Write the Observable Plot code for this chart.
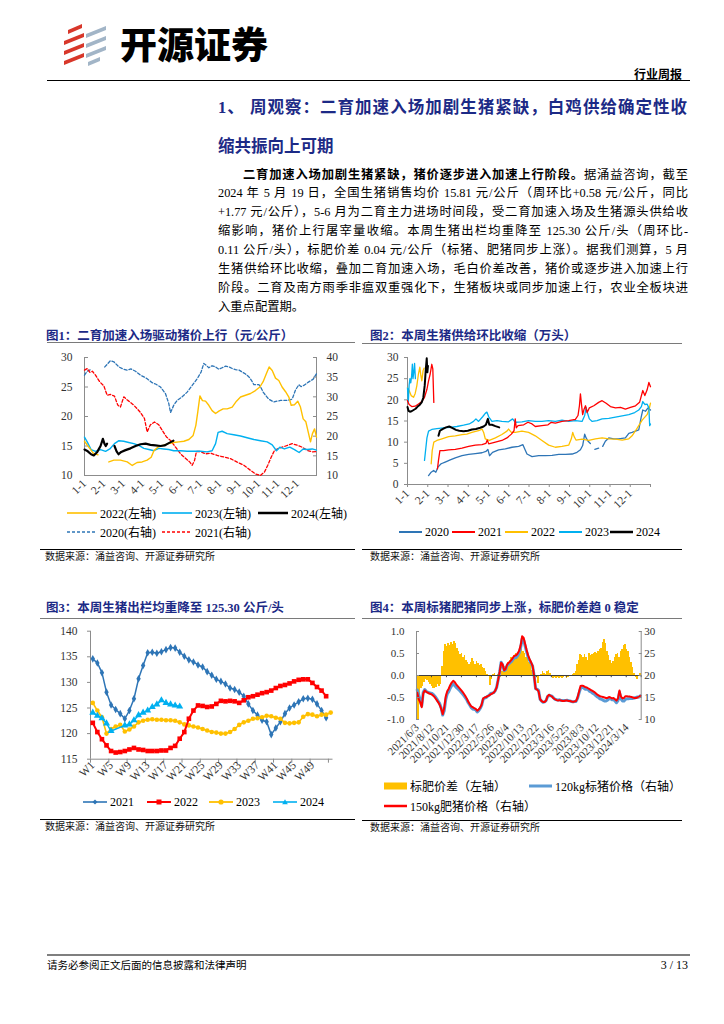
<!DOCTYPE html>
<html lang="zh-CN">
<head>
<meta charset="utf-8">
<script src="https://cdn.jsdelivr.net/npm/d3@7"></script>
<script src="https://cdn.jsdelivr.net/npm/@observablehq/plot@0.6"></script>
<style>
html,body{margin:0;padding:0;background:#fff;}
#page{position:relative;width:724px;height:1024px;overflow:hidden;background:#fff;color:#000;font-family:"Liberation Serif","Noto Sans CJK SC",serif;}
#page > *{position:absolute;}
.rule{height:0;border-top:1px solid #000;}
.grule{height:0;border-top:1px solid #7a7a7a;}
.ctitle{font-family:"Liberation Serif","Noto Sans CJK SC",serif;font-weight:700;font-size:12.5px;line-height:13px;color:#1C2A86;white-space:nowrap;}
.src{font-family:"Noto Sans CJK SC",sans-serif;font-size:10px;line-height:11px;white-space:nowrap;color:#111;}
.bl{left:218px;width:470px;font-size:12.3px;line-height:18.9px;height:18.9px;text-align:justify;text-align-last:justify;}
.tl{left:218px;font-family:"Liberation Serif","Noto Sans CJK SC",serif;font-weight:700;font-size:16.5px;line-height:20px;color:#1C2A86;white-space:nowrap;}
.lg{display:flex;align-items:center;height:16px;font-size:12px;white-space:nowrap;}
.lg svg{margin-right:3px;}
</style>
</head>
<body>
<div id="page">
  <!-- header -->
  <svg style="left:60px;top:22px" width="50" height="44" viewBox="0 0 50 44">
    <polygon points="8,8 22,2 22,6 8,12" fill="#D8372A"/>
    <polygon points="4,19 24,11 24,15 4,23" fill="#D8372A"/>
    <polygon points="4,29 24,21 24,25 4,33" fill="#D8372A"/>
    <polygon points="4,39 24,31 24,35 4,43" fill="#D8372A"/>
    <polygon points="26,12 46,4 46,8 26,16" fill="#A2B5C7"/>
    <polygon points="26,22 46,14 46,18 26,26" fill="#A2B5C7"/>
    <polygon points="26,32 46,24 46,28 26,36" fill="#A2B5C7"/>
    <polygon points="28,40 40,35 40,39 28,44" fill="#A2B5C7"/>
  </svg>
  <div style="left:120px;top:25px;font-family:'Noto Sans CJK SC',sans-serif;font-weight:900;font-size:37px;line-height:37px;white-space:nowrap;">开源证券</div>
  <div style="right:42px;top:67px;font-family:'Noto Sans CJK SC',sans-serif;font-weight:700;font-size:12px;line-height:13px;white-space:nowrap;">行业周报</div>
  <div class="rule" style="left:47px;width:643px;top:80px;border-top-width:1.5px;"></div>

  <!-- section title -->
  <div class="tl" style="top:98.3px;width:469px;text-align:justify;text-align-last:justify;">1、 周观察：二育加速入场加剧生猪紧缺，白鸡供给确定性收</div>
  <div class="tl" style="top:136.7px;">缩共振向上可期</div>

  <!-- body -->
  <div class="bl" style="top:165.5px;padding-left:25px;width:445px;"><b>二育加速入场加剧生猪紧缺，猪价逐步进入加速上行阶段。</b>据涌益咨询，截至</div>
  <div class="bl" style="top:184.4px;">2024 年 5 月 19 日，全国生猪销售均价 15.81 元/公斤（周环比+0.58 元/公斤，同比</div>
  <div class="bl" style="top:203.3px;">+1.77 元/公斤），5-6 月为二育主力进场时间段，受二育加速入场及生猪源头供给收</div>
  <div class="bl" style="top:222.2px;">缩影响，猪价上行屠宰量收缩。本周生猪出栏均重降至 125.30 公斤/头（周环比-</div>
  <div class="bl" style="top:241.1px;">0.11 公斤/头），标肥价差 0.04 元/公斤（标猪、肥猪同步上涨）。据我们测算，5 月</div>
  <div class="bl" style="top:260px;">生猪供给环比收缩，叠加二育加速入场，毛白价差改善，猪价或逐步进入加速上行</div>
  <div class="bl" style="top:278.9px;">阶段。二育及南方雨季非瘟双重强化下，生猪板块或同步加速上行，农业全板块进</div>
  <div class="bl" style="top:297.8px;text-align:left;text-align-last:left;">入重点配置期。</div>

  <!-- chart titles and rules -->
  <div class="ctitle" style="left:46px;top:329.5px;">图1：二育加速入场驱动猪价上行（元/公斤）</div>
  <div class="grule" style="left:47px;width:308px;top:342px;"></div>
  <div class="ctitle" style="left:370px;top:329.5px;">图2：本周生猪供给环比收缩（万头）</div>
  <div class="grule" style="left:362px;width:320px;top:343px;"></div>
  <div class="rule" style="left:40px;width:315px;top:549px;"></div>
  <div class="src" style="left:45px;top:549.5px;">数据来源：涌益咨询、开源证券研究所</div>
  <div class="rule" style="left:362px;width:320px;top:549px;"></div>
  <div class="src" style="left:370px;top:549.5px;">数据来源：涌益咨询、开源证券研究所</div>

  <div class="ctitle" style="left:46px;top:601.5px;">图3：本周生猪出栏均重降至 125.30 公斤/头</div>
  <div class="grule" style="left:40px;width:315px;top:618px;"></div>
  <div class="ctitle" style="left:370px;top:601.5px;">图4：本周标猪肥猪同步上涨，标肥价差趋 0 稳定</div>
  <div class="grule" style="left:362px;width:320px;top:618px;"></div>
  <div class="rule" style="left:40px;width:315px;top:819px;"></div>
  <div class="src" style="left:45px;top:820px;">数据来源：涌益咨询、开源证券研究所</div>
  <div class="rule" style="left:362px;width:320px;top:820px;"></div>
  <div class="src" style="left:370px;top:821px;">数据来源：涌益咨询、开源证券研究所</div>

  <!-- legends -->
  <div class="lg" style="left:67px;top:505.3px;"><svg width="30" height="8"><line x1="0" y1="4" x2="30" y2="4" stroke="#FFC000" stroke-width="1.6"/></svg>2022(左轴)</div>
  <div class="lg" style="left:162px;top:505.3px;"><svg width="30" height="8"><line x1="0" y1="4" x2="30" y2="4" stroke="#00B0F0" stroke-width="1.6"/></svg>2023(左轴)</div>
  <div class="lg" style="left:258px;top:505.3px;"><svg width="30" height="8"><line x1="0" y1="4" x2="30" y2="4" stroke="#000" stroke-width="2.5"/></svg>2024(左轴)</div>
  <div class="lg" style="left:67px;top:523.7px;"><svg width="30" height="8"><line x1="0" y1="4" x2="30" y2="4" stroke="#2E75B6" stroke-width="1.4" stroke-dasharray="3,2"/></svg>2020(右轴)</div>
  <div class="lg" style="left:162px;top:523.7px;"><svg width="30" height="8"><line x1="0" y1="4" x2="30" y2="4" stroke="#FF0000" stroke-width="1.4" stroke-dasharray="3,2"/></svg>2021(右轴)</div>

  <div class="lg" style="left:399px;top:524.3px;"><svg width="23" height="8"><line x1="0" y1="4" x2="23" y2="4" stroke="#2E75B6" stroke-width="2"/></svg>2020</div>
  <div class="lg" style="left:452px;top:524.3px;"><svg width="23" height="8"><line x1="0" y1="4" x2="23" y2="4" stroke="#FF0000" stroke-width="2"/></svg>2021</div>
  <div class="lg" style="left:505px;top:524.3px;"><svg width="23" height="8"><line x1="0" y1="4" x2="23" y2="4" stroke="#FFC000" stroke-width="2"/></svg>2022</div>
  <div class="lg" style="left:559px;top:524.3px;"><svg width="23" height="8"><line x1="0" y1="4" x2="23" y2="4" stroke="#00B0F0" stroke-width="2"/></svg>2023</div>
  <div class="lg" style="left:610px;top:524.3px;"><svg width="23" height="8"><line x1="0" y1="4" x2="23" y2="4" stroke="#000" stroke-width="2.5"/></svg>2024</div>

  <div class="lg" style="left:83px;top:794.3px;"><svg width="24" height="8"><line x1="0" y1="4" x2="24" y2="4" stroke="#2E75B6" stroke-width="1.6"/><path d="M12,1.5L14.5,4L12,6.5L9.5,4Z" fill="#2E75B6"/></svg>2021</div>
  <div class="lg" style="left:147px;top:794.3px;"><svg width="24" height="8"><line x1="0" y1="4" x2="24" y2="4" stroke="#FF0000" stroke-width="2"/><rect x="9.5" y="1.5" width="5" height="5" fill="#FF0000"/></svg>2022</div>
  <div class="lg" style="left:209px;top:794.3px;"><svg width="24" height="8"><line x1="0" y1="4" x2="24" y2="4" stroke="#FFC000" stroke-width="1.8"/><circle cx="12" cy="4" r="2.6" fill="#FFC000"/></svg>2023</div>
  <div class="lg" style="left:273px;top:794.3px;"><svg width="24" height="8"><line x1="0" y1="4" x2="24" y2="4" stroke="#00B0F0" stroke-width="1.6"/><path d="M12,1.2L14.8,6.2L9.2,6.2Z" fill="#00B0F0"/></svg>2024</div>

  <div class="lg" style="left:384px;top:778px;"><svg width="23" height="8"><rect x="0" y="0.5" width="23" height="7" fill="#FFC000"/></svg>标肥价差（左轴）</div>
  <div class="lg" style="left:529px;top:778px;"><svg width="23" height="8"><line x1="0" y1="4" x2="23" y2="4" stroke="#5B9BD5" stroke-width="3"/></svg>120kg标猪价格（右轴）</div>
  <div class="lg" style="left:384px;top:798px;"><svg width="23" height="8"><line x1="0" y1="4" x2="23" y2="4" stroke="#FF0000" stroke-width="2.5"/></svg>150kg肥猪价格（右轴）</div>

  <!-- footer -->
  <div style="left:47px;width:643px;top:954px;height:0;border-top:2px solid #7f7f7f;"></div>
  <div style="left:47px;top:959px;font-family:'Noto Sans CJK SC',sans-serif;font-size:10.5px;line-height:12px;white-space:nowrap;">请务必参阅正文后面的信息披露和法律声明</div>
  <div style="right:36px;top:959px;font-size:12px;line-height:12px;white-space:nowrap;">3 / 13</div>
</div>
<script>
// ---------- Chart 1: price by month-of-year (x = month fraction, 1 = Jan 1, 13 = Dec 31) ----------
const monthLabels = ["1-1","2-1","3-1","4-1","5-1","6-1","7-1","8-1","9-1","10-1","11-1","12-1"];
const c1LeftTicks = [10, 15, 20, 25, 30];
const c1RightTicks = [10, 15, 20, 25, 30, 35, 40];
const c1_2020 = [[1.00,35.5],[1.14,36.5],[1.34,37.0],[1.40,null],[2.05,37.6],[2.34,39.2],[2.52,38.9],[2.78,37.6],[3.03,37.0],[3.21,36.8],[3.40,37.1],[3.64,36.5],[3.90,35.5],[4.10,35.0],[4.24,34.6],[4.50,33.6],[4.70,33.2],[4.93,32.5],[5.19,30.8],[5.36,28.3],[5.45,26.0],[5.62,27.9],[5.79,29.1],[6.05,30.0],[6.31,31.2],[6.57,32.9],[6.83,34.6],[7.03,36.3],[7.17,38.5],[7.30,38.0],[7.43,37.4],[7.60,37.9],[7.78,37.6],[7.95,37.0],[8.12,37.4],[8.30,37.8],[8.47,37.6],[8.64,37.2],[8.81,36.9],[9.00,36.8],[9.16,36.3],[9.33,35.8],[9.50,35.1],[9.66,34.0],[9.76,33.1],[10.02,33.1],[10.13,32.3],[10.24,31.2],[10.40,30.2],[10.53,29.4],[10.79,28.7],[11.14,29.1],[11.48,29.1],[11.74,29.4],[11.91,31.7],[12.09,33.1],[12.20,32.6],[12.34,32.9],[12.60,33.8],[12.83,34.5],[13.00,35.9]];
const c1_2021 = [[1.00,36.8],[1.14,37.2],[1.28,36.2],[1.41,36.5],[1.57,35.5],[1.79,33.8],[2.00,32.8],[2.17,30.4],[2.34,30.6],[2.55,30.2],[2.72,27.9],[2.86,27.4],[3.03,30.0],[3.24,29.1],[3.52,28.0],[3.72,27.0],[3.90,26.0],[4.10,24.5],[4.24,21.1],[4.41,22.9],[4.62,23.6],[4.84,22.9],[5.02,21.5],[5.24,19.8],[5.45,18.9],[5.71,17.2],[5.97,15.5],[6.22,14.4],[6.45,13.4],[6.57,12.6],[6.69,13.8],[6.79,16.1],[7.00,16.1],[7.26,15.5],[7.52,15.7],[7.86,15.1],[8.21,14.7],[8.55,14.3],[8.90,13.4],[9.24,12.6],[9.59,11.3],[9.84,10.4],[10.10,10.0],[10.31,10.9],[10.48,12.6],[10.66,14.7],[10.83,16.4],[11.10,17.0],[11.40,17.5],[11.74,18.1],[12.00,17.7],[12.26,17.2],[12.52,16.4],[12.78,16.0],[13.00,16.1]];
const c1_2022 = [[1.00,15.8],[1.20,14.9],[1.45,13.8],[1.70,13.5],[1.90,null],[2.26,12.3],[2.52,12.6],[2.86,12.6],[3.21,12.3],[3.47,11.7],[3.72,12.2],[3.98,12.3],[4.24,12.6],[4.45,13.1],[4.59,14.2],[4.79,14.8],[5.07,15.1],[5.36,15.4],[5.62,15.6],[5.88,15.7],[6.14,15.8],[6.40,16.1],[6.62,16.8],[6.76,18.5],[6.86,20.8],[6.97,23.5],[7.10,22.7],[7.26,22.6],[7.43,21.9],[7.60,21.0],[7.78,20.5],[7.95,20.9],[8.17,21.3],[8.38,21.3],[8.64,21.6],[8.86,22.6],[9.07,23.3],[9.33,23.6],[9.59,23.9],[9.84,24.4],[10.07,25.0],[10.24,25.9],[10.41,27.3],[10.55,28.4],[10.71,27.8],[10.88,26.5],[11.05,26.1],[11.22,25.0],[11.40,24.2],[11.57,23.3],[11.69,21.9],[11.86,22.0],[12.03,22.6],[12.17,21.6],[12.31,19.6],[12.45,19.1],[12.57,17.4],[12.69,15.7],[12.79,17.1],[12.90,17.9],[13.00,16.5]];
const c1_2023 = [[1.00,16.5],[1.14,15.7],[1.34,14.4],[1.57,14.1],[1.83,14.4],[2.09,14.1],[2.31,14.5],[2.55,15.4],[2.78,15.9],[3.03,15.8],[3.29,15.6],[3.55,15.4],[3.81,15.1],[4.07,14.6],[4.33,14.4],[4.59,14.2],[4.84,14.6],[5.10,14.5],[5.36,14.4],[5.62,14.2],[5.97,14.2],[6.31,14.1],[6.66,14.1],[7.00,14.1],[7.34,14.0],[7.60,14.2],[7.78,15.4],[7.91,17.3],[8.12,17.5],[8.38,17.1],[8.72,16.9],[9.07,16.7],[9.41,16.4],[9.76,16.1],[10.10,15.9],[10.45,15.7],[10.71,15.2],[10.93,14.2],[11.10,14.8],[11.34,14.5],[11.62,14.8],[11.86,14.4],[12.10,13.9],[12.31,14.5],[12.52,14.4],[12.78,14.5],[13.00,14.3]];
const c1_2024 = [[1.00,14.4],[1.17,14.1],[1.34,13.6],[1.48,13.4],[1.66,14.0],[1.83,15.0],[1.95,16.2],[2.03,15.4],[2.10,15.0],[2.17,15.4],[2.30,null],[2.55,15.0],[2.66,14.1],[2.76,13.6],[2.90,14.0],[3.12,14.3],[3.38,14.6],[3.64,15.0],[3.90,15.3],[4.16,15.4],[4.41,15.2],[4.67,15.1],[4.93,15.0],[5.14,15.1],[5.31,15.4],[5.48,15.7],[5.60,15.9]];

// ---------- Chart 2: weekly supply (万头) ----------
const c2Ticks = [0, 5, 10, 15, 20, 25, 30];
const c2_2020 = [[2.04,2.1],[2.17,2.9],[2.29,3.3],[2.40,2.9],[2.50,4.1],[2.66,4.9],[2.86,5.3],[3.11,5.8],[3.36,6.3],[3.69,6.8],[4.02,7.1],[4.35,7.3],[4.68,7.5],[4.87,7.8],[4.97,8.3],[5.05,6.8],[5.20,7.6],[5.50,8.2],[5.83,8.4],[6.16,8.8],[6.49,9.0],[6.70,9.4],[6.79,8.4],[6.90,7.2],[7.15,6.6],[7.48,6.8],[7.81,6.8],[8.14,6.9],[8.47,7.1],[8.80,7.1],[9.13,7.2],[9.37,7.6],[9.54,8.2],[9.65,9.2],[9.75,11.9],[9.82,11.0],[9.92,10.2],[10.03,9.7],[10.12,null],[10.25,8.3],[10.44,8.6],[10.55,null],[10.64,9.0],[10.77,10.2],[10.94,11.0],[11.19,10.8],[11.43,10.8],[11.76,11.0],[11.93,12.1],[12.09,12.3],[12.26,12.6],[12.42,12.9],[12.54,15.9],[12.62,17.6],[12.75,17.3],[12.88,18.1],[13.00,17.6]];
const c2_2021 = [[1.00,19.8],[1.08,18.9],[1.21,18.4],[1.38,18.5],[1.54,19.0],[1.71,19.6],[1.84,20.6],[1.96,22.5],[2.04,24.5],[2.12,26.1],[2.20,28.4],[2.25,27.3],[2.30,19.4],[2.40,null],[2.48,3.7],[2.53,5.7],[2.60,8.0],[2.78,8.0],[3.03,8.2],[3.36,8.3],[3.69,8.6],[4.02,9.0],[4.35,9.3],[4.68,9.4],[4.87,9.7],[4.94,10.5],[5.01,9.6],[5.34,10.0],[5.66,10.4],[5.91,11.0],[6.13,11.9],[6.26,12.7],[6.32,15.5],[6.37,13.4],[6.46,13.9],[6.74,14.1],[6.95,14.7],[7.15,14.3],[7.31,13.7],[7.64,13.9],[7.94,14.1],[8.10,14.7],[8.30,14.5],[8.63,14.9],[8.96,15.1],[9.29,15.4],[9.42,16.3],[9.49,18.6],[9.54,21.4],[9.59,19.0],[9.65,16.5],[9.72,17.8],[9.79,18.6],[9.87,17.0],[9.98,18.1],[10.20,18.6],[10.44,19.4],[10.61,19.8],[10.81,19.2],[11.02,18.4],[11.27,18.1],[11.52,18.2],[11.76,17.8],[12.01,18.2],[12.26,18.6],[12.46,19.4],[12.62,22.2],[12.72,21.0],[12.83,22.3],[12.92,24.1],[13.00,23.1]];
const c2_2022 = [[1.00,22.9],[1.08,22.2],[1.18,21.0],[1.30,20.6],[1.38,21.5],[1.46,23.3],[1.54,26.1],[1.61,27.7],[1.66,25.7],[1.71,24.5],[1.77,26.9],[1.82,27.5],[1.95,null],[2.17,4.9],[2.22,8.0],[2.30,10.0],[2.45,10.4],[2.70,10.8],[3.03,11.3],[3.36,11.5],[3.69,11.8],[3.93,11.9],[4.18,12.3],[4.51,12.7],[4.68,13.1],[4.76,12.3],[4.84,10.8],[5.04,10.4],[5.34,11.0],[5.66,11.8],[5.91,12.6],[5.99,13.1],[6.13,12.3],[6.32,12.3],[6.65,12.6],[6.98,12.3],[7.31,11.5],[7.64,10.4],[7.97,9.3],[8.30,8.8],[8.63,9.0],[8.96,9.3],[9.09,10.8],[9.16,12.3],[9.23,11.3],[9.32,10.5],[9.62,10.7],[9.95,10.4],[10.28,10.8],[10.61,11.0],[10.94,10.8],[11.27,10.7],[11.60,10.5],[11.93,10.8],[12.09,11.5],[12.26,12.7],[12.42,13.9],[12.59,15.2],[12.72,15.9],[12.83,16.5],[12.92,17.6],[13.00,19.2]];
const c2_2023 = [[1.00,22.8],[1.04,19.5],[1.08,23.5],[1.12,25.0],[1.16,24.0],[1.20,25.5],[1.24,28.4],[1.27,25.0],[1.31,26.5],[1.35,28.6],[1.39,25.0],[1.50,null],[1.84,5.7],[1.91,8.8],[1.96,11.0],[2.04,12.6],[2.20,13.0],[2.45,13.2],[2.78,13.4],[3.11,13.5],[3.44,13.7],[3.77,14.0],[4.05,14.3],[4.26,14.9],[4.38,15.5],[4.51,14.9],[4.71,16.0],[4.84,16.8],[4.92,17.1],[5.01,16.0],[5.17,14.9],[5.42,15.1],[5.66,14.9],[5.99,14.8],[6.19,15.5],[6.32,14.7],[6.65,14.8],[6.98,15.1],[7.31,14.9],[7.64,14.9],[7.97,15.1],[8.30,14.9],[8.63,15.2],[8.96,14.9],[9.29,15.1],[9.62,14.9],[9.75,16.3],[9.82,18.2],[9.88,17.0],[9.98,15.5],[10.12,14.9],[10.36,15.1],[10.61,15.5],[10.94,15.6],[11.27,15.9],[11.60,16.2],[11.93,16.5],[12.22,17.0],[12.42,17.6],[12.55,18.4],[12.62,19.6],[12.72,18.9],[12.83,19.0],[12.92,18.1],[12.96,13.9],[13.00,14.3]];
const c2_2024 = [[1.00,18.3],[1.05,17.4],[1.12,17.2],[1.20,17.3],[1.30,17.6],[1.40,17.9],[1.50,18.4],[1.60,18.8],[1.70,19.4],[1.78,20.5],[1.85,23.4],[1.90,27.0],[1.95,29.8],[1.98,26.5],[2.01,28.0],[2.20,null],[2.53,11.5],[2.60,12.7],[2.73,13.1],[2.90,13.5],[3.06,13.7],[3.23,13.3],[3.39,12.9],[3.55,12.7],[3.77,12.6],[3.98,12.7],[4.18,13.0],[4.38,13.1],[4.59,13.4],[4.76,13.7],[4.87,14.1],[4.97,15.5],[5.04,14.1],[5.17,14.1],[5.34,13.8],[5.53,13.5]];

// ---------- Chart 3: weekly average slaughter weight (公斤/头), index = week-1 ----------
const weekLabels = ["W1","W5","W9","W13","W17","W21","W25","W29","W33","W37","W41","W45","W49"];
const c3Ticks = [115, 120, 125, 130, 135, 140];
const c3_2021 = [134.6,133.8,131.9,128.1,125.6,124.7,123.9,122.9,124.5,126.8,130.7,133.3,135.8,135.9,135.7,136.0,136.4,136.8,136.7,135.9,135.1,134.4,134.0,133.4,133.0,132.1,131.4,130.6,130.2,129.7,128.9,128.6,128.1,127.3,125.8,124.5,123.6,122.6,122.3,119.8,121.1,122.3,123.9,125.0,125.6,126.2,126.8,126.9,126.7,125.8,124.5,123.1];
const c3_2022 = [122.1,120.3,118.9,117.7,116.6,116.3,116.4,116.6,116.9,117.2,116.9,116.8,116.6,116.6,116.6,116.7,116.7,117.2,117.6,119.0,120.3,122.9,124.5,125.5,125.4,125.2,125.3,125.8,126.4,126.3,126.4,126.3,126.0,126.5,127.1,127.3,127.6,127.9,128.1,128.4,128.9,129.3,129.5,129.8,130.2,130.5,130.6,130.6,129.9,129.1,128.4,127.3];
const c3_2023 = [126.0,124.5,123.2,120.0,120.9,121.4,121.7,120.4,120.8,121.4,122.2,122.5,122.7,122.8,122.7,122.7,122.6,122.6,122.5,122.2,121.8,121.6,121.4,121.2,120.9,120.6,120.3,120.2,120.0,120.0,120.3,120.9,121.7,122.2,122.5,122.9,123.0,123.2,123.5,123.4,123.1,122.9,122.1,122.0,122.1,122.2,123.3,123.8,123.7,123.4,123.7,123.7,124.1];
const c3_2024 = [124.1,123.5,123.0,122.0,120.5,null,null,121.6,121.8,122.6,123.6,124.1,124.5,125.2,125.7,126.5,126.0,125.7,125.5,125.3];

// ---------- Chart 4: weekly, from 2021/6/3 (index = week order) ----------
const c4Labels = ["2021/6/3","2021/8/12","2021/10/21","2021/12/30","2022/3/17","2022/5/26","2022/8/4","2022/10/13","2022/12/22","2023/3/16","2023/5/25","2023/8/3","2023/10/12","2023/12/21","2024/3/14"];
const c4LeftTicks = [-1, -0.5, 0, 0.5, 1];
const c4RightTicks = [10, 15, 20, 25, 30];
const c4Spread = [-0.55,-1.0,-0.45,-0.3,-0.25,-0.15,-0.1,-0.12,-0.15,-0.2,
-0.25,-0.3,-0.3,-0.28,-0.2,-0.25,-0.2,0.2,0.55,0.7,
0.65,0.72,0.68,0.75,0.7,0.78,0.72,0.62,0.55,0.48,
0.5,0.42,0.45,0.35,0.3,0.25,0.3,0.38,0.32,0.25,
0.32,0.28,0.22,0.25,0.18,0.15,0.08,0.02,0.0,-0.22,
-0.1,0.03,0.05,-0.03,0.02,0.04,-0.05,0.1,0.15,0.2,
0.25,0.3,0.35,0.4,0.38,0.45,0.5,0.48,0.55,0.52,
0.6,0.55,0.5,0.42,0.4,0.3,0.22,0.12,0.05,-0.02,
-0.05,-0.18,-0.03,0.03,0.08,0.05,0.02,0.1,0.12,0.05,
-0.05,-0.06,-0.04,-0.07,-0.05,-0.06,-0.04,-0.07,-0.05,-0.03,
-0.06,-0.05,-0.03,-0.02,0.03,0.05,0.1,0.25,0.35,0.48,
0.45,0.42,0.47,0.4,0.35,0.5,0.45,0.48,0.5,0.52,
0.5,0.55,0.58,0.62,0.75,0.82,0.72,0.55,0.45,0.35,
0.28,0.32,0.4,0.48,0.5,0.42,0.55,0.6,0.68,0.7,
0.58,0.55,0.4,0.3,0.18,0.05,-0.05,-0.08,-0.02,0.04];
const c4Fat150 = [16.1,14.6,13.9,12.8,15.9,16.6,16.3,16.1,15.9,15.8,
15.6,15.3,14.9,14.4,13.9,13.3,12.4,11.2,12.6,15.2,
16.4,17.0,17.8,18.4,18.8,18.5,18.0,17.6,17.2,16.8,
16.4,15.9,15.4,14.8,14.1,13.5,13.0,12.8,12.6,12.4,
12.0,12.3,12.7,13.4,14.8,15.0,15.1,15.3,15.5,15.7,
15.9,16.1,16.5,17.3,19.0,20.8,22.9,22.5,21.2,21.5,
22.5,22.9,23.2,23.6,24.1,24.5,24.6,25.0,25.6,26.8,
28.9,28.6,27.2,25.8,24.6,23.7,23.0,22.2,20.0,17.0,
16.8,16.4,14.6,14.2,14.0,14.0,14.3,15.3,15.6,15.4,
15.2,14.8,14.6,14.4,14.3,14.4,14.3,14.2,14.2,14.3,
14.3,14.2,14.2,14.1,14.0,14.1,14.2,15.0,16.3,17.6,
17.7,17.6,17.4,17.3,17.1,16.9,16.7,16.5,16.3,16.0,
15.7,15.5,15.3,15.2,15.1,15.0,14.9,14.9,15.1,15.0,
14.8,14.9,14.6,14.3,14.8,16.6,15.2,14.8,14.9,15.3,
15.3,15.2,15.2,15.1,15.0,14.9,14.9,15.0,15.1,15.4];
const c4Std120 = [16.7,15.6,14.4,13.1,16.2,16.8,16.4,16.2,16.1,16.0,
15.9,15.6,15.2,14.7,14.1,13.6,12.6,11.0,12.0,14.5,
15.8,16.3,17.1,17.7,18.1,17.7,17.3,17.0,16.7,16.3,
15.9,15.5,15.0,14.5,13.8,13.3,12.7,12.4,12.3,12.2,
11.7,12.0,12.5,13.2,14.6,14.9,15.0,15.3,15.5,15.9,
16.0,16.1,16.5,17.3,19.0,20.8,23.0,22.4,21.1,21.3,
22.3,22.6,22.9,23.2,23.7,24.1,24.1,24.5,25.1,26.3,
28.3,28.1,26.7,25.4,24.2,23.4,22.8,22.1,20.0,17.0,
16.9,16.6,14.6,14.2,13.9,14.0,14.3,15.2,15.5,15.4,
15.3,14.9,14.6,14.5,14.4,14.5,14.3,14.3,14.3,14.3,
14.4,14.3,14.2,14.1,14.0,14.1,14.1,14.8,16.0,17.1,
17.3,17.2,16.9,16.9,16.8,16.4,16.3,16.0,15.8,15.5,
15.2,15.0,14.7,14.6,14.4,14.2,14.2,14.4,14.7,14.7,
14.5,14.6,14.2,13.8,14.3,16.2,14.7,14.2,14.2,14.6,
14.7,14.7,14.8,14.8,14.8,14.9,15.0,15.1,15.1,15.4];

// ---------- rendering ----------
const page = document.getElementById("page");
function put(svg, left, top) {
  svg.style.position = "absolute";
  svg.style.left = left + "px";
  svg.style.top = top + "px";
  page.appendChild(svg);
}
const FONT = "'Liberation Serif','Times New Roman','Noto Sans CJK SC',serif";
const AX = "#8c8c8c", TXT = "#333";
const X = d => d[0], Y = d => d[1];
const monthTicks = monthLabels.map((_, i) => i + 1);
const baseStyle = fs => ({fontFamily: FONT, fontSize: fs, color: TXT, background: "transparent", overflow: "visible"});

// Chart 1 (right axis 10..40 mapped onto left 10..30)
const toL1 = v => v == null ? null : 10 + (v - 10) * 2 / 3;
const fromL1 = d => Math.round(10 + (d - 10) * 1.5);
put(Plot.plot({
  width: 320, height: 150, marginLeft: 44, marginRight: 44, marginTop: 7, marginBottom: 25,
  x: {domain: [1, 13]}, y: {domain: [10, 30]},
  style: baseStyle("11.5px"),
  marks: [
    Plot.ruleX([1, 13], {stroke: AX}),
    Plot.ruleY([10], {stroke: AX}),
    Plot.axisY({ticks: c1LeftTicks, anchor: "left", tickSize: 4, dx: 4, tickPadding: 12, stroke: AX, fill: TXT, label: null}),
    Plot.axisY({ticks: c1RightTicks.map(toL1), anchor: "right", tickSize: 4, dx: -4, tickPadding: 10, tickFormat: fromL1, stroke: AX, fill: TXT, label: null}),
    Plot.axisX({ticks: monthTicks, tickFormat: d => monthLabels[d - 1], tickRotate: -45, textAnchor: "end", tickSize: 0, tickPadding: 6, fill: TXT, label: null}),
    Plot.line(c1_2020, {x: X, y: d => toL1(d[1]), stroke: "#2E75B6", strokeWidth: 1.3, strokeDasharray: "3,2"}),
    Plot.line(c1_2021, {x: X, y: d => toL1(d[1]), stroke: "#FF0000", strokeWidth: 1.3, strokeDasharray: "3,2"}),
    Plot.line(c1_2023, {x: X, y: Y, stroke: "#00B0F0", strokeWidth: 1.4}),
    Plot.line(c1_2022, {x: X, y: Y, stroke: "#FFC000", strokeWidth: 1.4}),
    Plot.line(c1_2024, {x: X, y: Y, stroke: "#000", strokeWidth: 2.2})
  ]
}), 40, 350);

// Chart 2
put(Plot.plot({
  width: 328, height: 160, marginLeft: 45, marginRight: 40, marginTop: 7, marginBottom: 26,
  x: {domain: [1, 13]}, y: {domain: [0, 30]},
  style: baseStyle("11.5px"),
  marks: [
    Plot.ruleX([1], {stroke: AX}),
    Plot.ruleY([0], {stroke: AX}),
    Plot.axisY({ticks: c2Ticks, anchor: "left", tickSize: 3, tickPadding: 6, stroke: AX, fill: TXT, label: null}),
    Plot.axisX({ticks: [...monthTicks, 13], tickSize: 3, fill: "none", stroke: AX, label: null}),
    Plot.axisX({ticks: monthTicks, tickFormat: d => monthLabels[d - 1], tickRotate: -45, textAnchor: "end", tickSize: 0, tickPadding: 7, fill: TXT, label: null}),
    Plot.line(c2_2020, {x: X, y: Y, stroke: "#2E75B6", strokeWidth: 1.3}),
    Plot.line(c2_2022, {x: X, y: Y, stroke: "#FFC000", strokeWidth: 1.3}),
    Plot.line(c2_2023, {x: X, y: Y, stroke: "#00B0F0", strokeWidth: 1.3}),
    Plot.line(c2_2021, {x: X, y: Y, stroke: "#FF0000", strokeWidth: 1.3}),
    Plot.line(c2_2024, {x: X, y: Y, stroke: "#000", strokeWidth: 2})
  ]
}), 362, 350);

// Chart 3
const wk = (d, i) => i + 1;
const weekPos = weekLabels.map(s => +s.slice(1));
put(Plot.plot({
  width: 320, height: 175, marginLeft: 50, marginRight: 27.5, marginTop: 10.7, marginBottom: 36.3,
  x: {domain: [0.5, 53.5]}, y: {domain: [115, 140]},
  style: baseStyle("11.5px"),
  marks: [
    Plot.ruleX([0.5], {stroke: AX}),
    Plot.ruleY([115], {stroke: AX}),
    Plot.axisY({ticks: c3Ticks, anchor: "left", tickSize: 3, tickPadding: 10, stroke: AX, fill: TXT, label: null}),
    Plot.axisX({ticks: [...weekPos.map(w => w - 0.5), 52.5], tickSize: 4, fill: "none", stroke: AX, label: null}),
    Plot.axisX({ticks: weekPos, tickFormat: d => weekLabels[weekPos.indexOf(d)], tickRotate: -45, textAnchor: "end", tickSize: 0, tickPadding: 4, fill: TXT, label: null}),
    Plot.line(c3_2021, {x: wk, y: d => d, stroke: "#2E75B6", strokeWidth: 1.5}),
    Plot.dot(c3_2021, {x: wk, y: d => d, symbol: "diamond", r: 2.3, fill: "#2E75B6"}),
    Plot.line(c3_2023, {x: wk, y: d => d, stroke: "#FFC000", strokeWidth: 1.6}),
    Plot.dot(c3_2023, {x: wk, y: d => d, symbol: "circle", r: 2.3, fill: "#FFC000"}),
    Plot.line(c3_2022, {x: wk, y: d => d, stroke: "#FF0000", strokeWidth: 2}),
    Plot.dot(c3_2022, {x: wk, y: d => d, symbol: "square", r: 2.6, fill: "#FF0000"}),
    Plot.line(c3_2024, {x: wk, y: d => d, filter: d => d != null, stroke: "#00B0F0", strokeWidth: 1.5}),
    Plot.dot(c3_2024, {x: wk, y: d => d, filter: d => d != null, symbol: "triangle", r: 2.6, fill: "#00B0F0"})
  ]
}), 40, 620);

// Chart 4 (right axis 10..30 mapped onto left -1..1)
const toL4 = v => (v - 20) / 10;
const fromL4 = d => Math.round(20 + d * 10);
const idx = (d, i) => i;
const c4TickPos = c4Labels.map((_, i) => i * 10 + 0.5);
put(Plot.plot({
  width: 328, height: 165, marginLeft: 54, marginRight: 49.3, marginTop: 11, marginBottom: 66,
  x: {domain: [0, c4Spread.length]}, y: {domain: [-1, 1]},
  style: baseStyle("11px"),
  marks: [
    Plot.rect(c4Spread, {x1: idx, x2: (d, i) => i + 1, y1: 0, y2: d => d, fill: "#FFC000", shapeRendering: "crispEdges"}),
    Plot.line(c4Std120, {x: (d, i) => i + 0.5, y: d => toL4(d), stroke: "#5B9BD5", strokeWidth: 3}),
    Plot.line(c4Fat150, {x: (d, i) => i + 0.5, y: d => toL4(d), stroke: "#FF0000", strokeWidth: 2}),
    Plot.ruleY([0], {stroke: "#404040"}),
    Plot.ruleX([...c4Labels.map((_, i) => i * 10), c4Spread.length], {y1: 0, y2: -0.05, stroke: "#404040"}),
    Plot.ruleX([0, c4Spread.length], {stroke: AX}),
    Plot.axisY({ticks: c4LeftTicks, anchor: "left", tickSize: 3, dx: 3, tickPadding: 12, tickFormat: d => d.toFixed(1), stroke: AX, fill: TXT, label: null}),
    Plot.axisY({ticks: c4RightTicks.map(toL4), anchor: "right", tickSize: 3, dx: -3, tickPadding: 3, tickFormat: fromL4, stroke: AX, fill: TXT, label: null}),
    Plot.axisX({ticks: c4TickPos, tickFormat: d => c4Labels[Math.round((d - 0.5) / 10)], tickRotate: -45, textAnchor: "end", tickSize: 0, tickPadding: 6, fill: TXT, label: null})
  ]
}), 362, 620);
</script>
</body>
</html>
